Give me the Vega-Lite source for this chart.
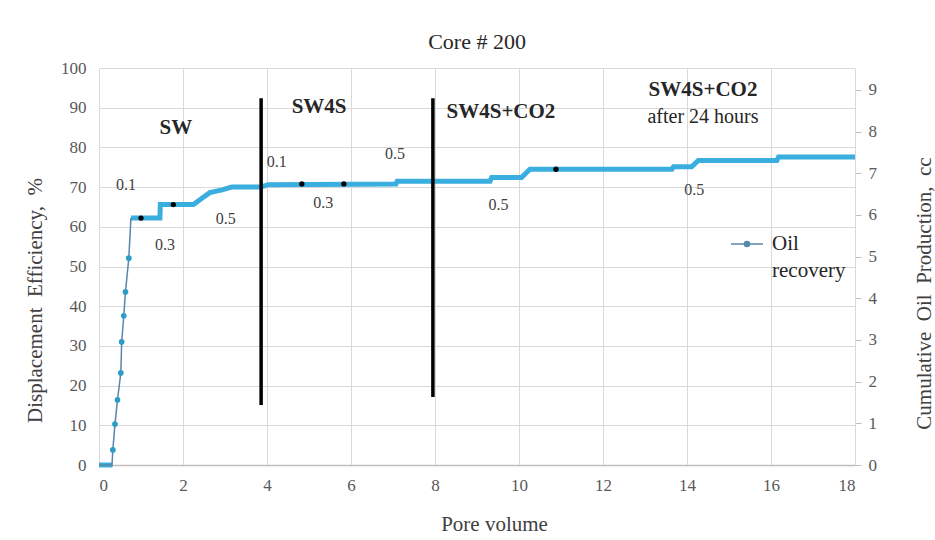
{
  "$schema": "https://vega.github.io/schema/vega-lite/v6.json",
  "width": 756,
  "height": 397,
  "autosize": {"type": "none"},
  "padding": {"left": 99, "top": 68, "right": 80, "bottom": 75},
  "background": "white",
  "title": {"text": "Core # 200", "fontSize": 22, "font": "Liberation Serif", "fontWeight": "normal", "color": "#262626", "frame": "group", "offset": 5, "anchor": "middle"},
  "config": {
    "font": "Liberation Serif",
    "view": {"stroke": null},
    "axis": {"labelFont": "Liberation Serif", "titleFont": "Liberation Serif"},
    "legend": {"labelFont": "Liberation Serif", "titleFont": "Liberation Serif"}
  },
  "datasets": {
    "thick": [
      {"x": 0, "y": 0, "seg": "A"}, {"x": 0.32, "y": 0, "seg": "A"},
      {"x": 0.76, "y": 62.2, "seg": "B"}, {"x": 1.45, "y": 62.2, "seg": "B"},
      {"x": 1.46, "y": 65.6, "seg": "B"}, {"x": 2.25, "y": 65.6, "seg": "B"},
      {"x": 2.45, "y": 67.2, "seg": "B"}, {"x": 2.64, "y": 68.6, "seg": "B"},
      {"x": 2.93, "y": 69.3, "seg": "B"}, {"x": 3.16, "y": 70.0, "seg": "B"},
      {"x": 3.86, "y": 70.0, "seg": "B"}, {"x": 4.02, "y": 70.6, "seg": "B"},
      {"x": 7.07, "y": 70.8, "seg": "B"}, {"x": 7.1, "y": 71.5, "seg": "B"},
      {"x": 9.31, "y": 71.5, "seg": "B"}, {"x": 9.35, "y": 72.4, "seg": "B"},
      {"x": 10.06, "y": 72.4, "seg": "B"}, {"x": 10.26, "y": 74.5, "seg": "B"},
      {"x": 13.64, "y": 74.5, "seg": "B"}, {"x": 13.68, "y": 75.1, "seg": "B"},
      {"x": 14.11, "y": 75.1, "seg": "B"}, {"x": 14.27, "y": 76.7, "seg": "B"},
      {"x": 16.14, "y": 76.7, "seg": "B"}, {"x": 16.18, "y": 77.6, "seg": "B"},
      {"x": 18, "y": 77.6, "seg": "B"}
    ],
    "rise": [
      {"x": 0, "y": 0, "series": "Oil recovery"},
      {"x": 0.31, "y": 0, "series": "Oil recovery"},
      {"x": 0.33, "y": 3.8, "series": "Oil recovery"},
      {"x": 0.38, "y": 10.3, "series": "Oil recovery"},
      {"x": 0.44, "y": 16.4, "series": "Oil recovery"},
      {"x": 0.52, "y": 23.2, "series": "Oil recovery"},
      {"x": 0.54, "y": 31.0, "series": "Oil recovery"},
      {"x": 0.59, "y": 37.6, "series": "Oil recovery"},
      {"x": 0.63, "y": 43.6, "series": "Oil recovery"},
      {"x": 0.71, "y": 52.1, "series": "Oil recovery"},
      {"x": 0.76, "y": 62.2, "series": "Oil recovery"}
    ],
    "markers": [
      {"x": 0.33, "y": 3.8}, {"x": 0.38, "y": 10.3}, {"x": 0.44, "y": 16.4},
      {"x": 0.52, "y": 23.2}, {"x": 0.54, "y": 31.0}, {"x": 0.59, "y": 37.6},
      {"x": 0.63, "y": 43.6}, {"x": 0.71, "y": 52.1}
    ],
    "dots": [
      {"x": 1.0, "y": 62.2}, {"x": 1.77, "y": 65.6}, {"x": 4.83, "y": 70.8},
      {"x": 5.83, "y": 70.8}, {"x": 10.88, "y": 74.5}
    ],
    "phases": [
      {"x": 3.86, "y": 15.1, "y2": 92.4},
      {"x": 7.95, "y": 17.1, "y2": 92.4}
    ],
    "bold": [
      {"x": 1.83, "y": 84.9, "label": "SW"},
      {"x": 5.24, "y": 90.2, "label": "SW4S"},
      {"x": 9.57, "y": 88.9, "label": "SW4S+CO2"},
      {"x": 14.38, "y": 94.5, "label": "SW4S+CO2"}
    ],
    "note": [
      {"x": 14.38, "y": 87.7, "label": "after 24 hours"}
    ],
    "small": [
      {"x": 0.64, "y": 70.5, "label": "0.1"},
      {"x": 1.57, "y": 55.4, "label": "0.3"},
      {"x": 3.02, "y": 62.0, "label": "0.5"},
      {"x": 4.23, "y": 76.4, "label": "0.1"},
      {"x": 5.34, "y": 65.9, "label": "0.3"},
      {"x": 7.05, "y": 78.3, "label": "0.5"},
      {"x": 9.51, "y": 65.5, "label": "0.5"},
      {"x": 14.17, "y": 69.3, "label": "0.5"}
    ]
  },
  "layer": [
    {
      "data": {"values": [{"pct": 0}, {"pct": 100}]},
      "mark": {"type": "point", "opacity": 0},
      "encoding": {
        "y": {"field": "pct", "type": "quantitative",
          "scale": {"domain": [0, 100], "nice": false},
          "axis": {"orient": "left", "values": [0, 10, 20, 30, 40, 50, 60, 70, 80, 90, 100], "grid": true, "gridColor": "#d9d9d9", "domain": false, "ticks": false, "labelFont": "Liberation Serif", "labelFontSize": 17, "labelColor": "#595959", "labelPadding": 13, "title": "Displacement\u00a0\u00a0Efficiency,\u00a0\u00a0%", "titleFont": "Liberation Serif", "titleFontSize": 21, "titleFontWeight": "normal", "titleColor": "#404040", "titleX": -64, "titleY": 232, "titleAngle": 270, "titleBaseline": "middle", "titleAlign": "center"}}
      }
    },
    {
      "encoding": {
        "x": {"field": "x", "type": "quantitative",
          "scale": {"domain": [0, 18], "nice": false},
          "axis": {"values": [0, 2, 4, 6, 8, 10, 12, 14, 16, 18], "grid": true, "gridColor": "#d9d9d9", "domainColor": "#bfbfbf", "domainWidth": 1.5, "ticks": false, "labelFont": "Liberation Serif", "labelFontSize": 17, "labelColor": "#595959", "labelPadding": 12, "title": "Pore volume", "titleFont": "Liberation Serif", "titleFontSize": 21, "titleFontWeight": "normal", "titleColor": "#404040", "titleX": 395, "titleY": 59, "titleBaseline": "middle"}},
        "y": {"field": "y", "type": "quantitative",
          "scale": {"domain": [0, 100], "nice": false},
          "axis": null}
      },
      "layer": [
        {
          "data": {"name": "thick"},
          "mark": {"type": "line", "color": "#3aaede", "strokeWidth": 5},
          "encoding": {"detail": {"field": "seg"}}
        },
        {
          "data": {"name": "rise"},
          "mark": {"type": "line", "strokeWidth": 1.5},
          "encoding": {
            "color": {"field": "series", "type": "nominal",
              "scale": {"range": ["#5a86a8"]},
              "legend": {"orient": "none", "legendX": 631, "legendY": 159, "title": null, "padding": 0,
                "symbolType": "M-1,0L1,0M-0.16,0a0.16,0.16 0 1,0 0.32,0a0.16,0.16 0 1,0 -0.32,0",
                "symbolSize": 1024, "symbolStrokeWidth": 1.5, "symbolFillColor": "#2b9dc4",
                "labelFont": "Liberation Serif", "labelFontSize": 21, "labelColor": "#262626", "labelBaseline": "alphabetic", "labelOffset": 8,
                "labelExpr": "['Oil', 'recovery']",
                "encode": {"labels": {"update": {"dy": {"value": 6}, "lineHeight": {"value": 27}}}}}}
          }
        },
        {
          "data": {"name": "markers"},
          "mark": {"type": "point", "filled": true, "color": "#2b9dc4", "size": 32, "opacity": 1}
        },
        {
          "data": {"name": "dots"},
          "mark": {"type": "point", "filled": true, "color": "#000000", "size": 28, "opacity": 1}
        },
        {
          "data": {"name": "phases"},
          "mark": {"type": "rule", "color": "#000000", "strokeWidth": 3.5},
          "encoding": {"y2": {"field": "y2"}}
        },
        {
          "data": {"name": "bold"},
          "mark": {"type": "text", "fontSize": 21, "fontWeight": "bold", "color": "#262626", "font": "Liberation Serif"},
          "encoding": {"text": {"field": "label"}}
        },
        {
          "data": {"name": "note"},
          "mark": {"type": "text", "fontSize": 20, "color": "#262626", "font": "Liberation Serif"},
          "encoding": {"text": {"field": "label"}}
        },
        {
          "data": {"name": "small"},
          "mark": {"type": "text", "fontSize": 16, "color": "#404040", "font": "Liberation Serif"},
          "encoding": {"text": {"field": "label"}}
        }
      ]
    },
    {
      "data": {"values": [{"cc": 0}, {"cc": 9.524}]},
      "mark": {"type": "point", "opacity": 0},
      "encoding": {
        "y": {"field": "cc", "type": "quantitative",
          "scale": {"domain": [0, 9.524], "nice": false},
          "axis": {"orient": "right", "values": [0, 1, 2, 3, 4, 5, 6, 7, 8, 9], "grid": false, "domain": false, "ticks": true, "tickColor": "#bfbfbf", "tickSize": 6, "labelFont": "Liberation Serif", "labelFontSize": 17, "labelColor": "#595959", "labelPadding": 7, "title": "Cumulative\u00a0\u00a0Oil\u00a0\u00a0Production,\u00a0\u00a0cc", "titleFont": "Liberation Serif", "titleFontSize": 21, "titleFontWeight": "normal", "titleColor": "#404040", "titleX": 69, "titleY": 225, "titleAngle": 270, "titleBaseline": "middle", "titleAlign": "center"}}
      }
    }
  ],
  "resolve": {"scale": {"y": "independent"}}
}
